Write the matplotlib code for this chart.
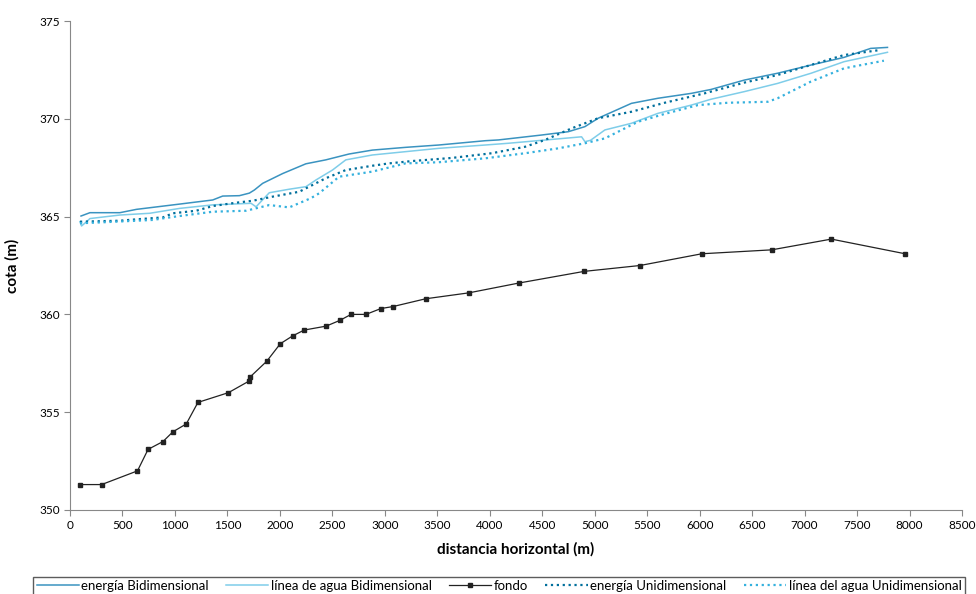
import matplotlib.pyplot as plt

plt.rcParams['font.family'] = ['Lato', 'DejaVu Sans']

# fondo (bed profile)
fondo_x = [95, 301, 643, 744, 886, 981, 1108, 1219, 1510, 1709, 1716, 1874, 2004,
           2121, 2232, 2441, 2574, 2678, 2820, 2963, 3077, 3390, 3799, 4274, 4900,
           5432, 6021, 6686, 7255, 7958]
fondo_y = [351.3, 351.3, 352.0, 353.1, 353.5, 354.0, 354.4, 355.5, 356.0, 356.6,
           356.8, 357.6, 358.5, 358.9, 359.2, 359.4, 359.7, 360.0, 360.0, 360.3,
           360.4, 360.8, 361.1, 361.6, 362.2, 362.5, 363.1, 363.3, 363.85, 363.1]

# energía Bidimensional
e2d_x = [105, 190, 475, 633, 1045, 1360, 1455, 1614, 1709, 1757, 1836, 2026, 2248,
         2437, 2659, 2881, 3197, 3514, 3957, 4084, 4493, 4748, 4907, 5033, 5350,
         5603, 5920, 6108, 6426, 6743, 7062, 7376, 7630, 7790]
e2d_y = [365.03, 365.2, 365.2, 365.37, 365.64, 365.85, 366.05, 366.07, 366.2, 366.36,
         366.7, 367.2, 367.7, 367.9, 368.2, 368.4, 368.54, 368.66, 368.88, 368.92,
         369.17, 369.34, 369.6, 370.03, 370.79, 371.05, 371.3, 371.5, 371.98, 372.33,
         372.75, 373.14, 373.6, 373.65]

# línea de agua Bidimensional
w2d_x = [95, 110, 158, 190, 475, 760, 1045, 1361, 1725, 1773, 1899, 2089, 2248, 2343,
         2501, 2628, 2881, 3197, 3514, 3957, 4179, 4875, 4907, 4960, 5097, 5350, 5603,
         5920, 6108, 6426, 6743, 7062, 7376, 7790]
w2d_y = [364.74, 364.52, 364.74, 364.9, 365.08, 365.17, 365.42, 365.6, 365.68, 365.5,
         366.22, 366.4, 366.53, 366.87, 367.38, 367.9, 368.15, 368.32, 368.49, 368.66,
         368.75, 369.08, 368.83, 368.9, 369.43, 369.77, 370.28, 370.7, 371.0, 371.39,
         371.81, 372.33, 372.92, 373.4]

# energía Unidimensional
e1d_x = [95, 475, 633, 886, 981, 1203, 1361, 1583, 1741, 1931, 2184, 2437, 2628,
         2881, 3039, 3260, 3640, 3957, 4020, 4337, 4527, 4780, 5033, 5350, 5667,
         6046, 6426, 6743, 7059, 7376, 7724]
e1d_y = [364.74, 364.79, 364.86, 364.96, 365.17, 365.3, 365.54, 365.71, 365.81, 366.02,
         366.27, 366.96, 367.38, 367.6, 367.72, 367.84, 368.0, 368.2, 368.24, 368.57,
         368.92, 369.51, 370.03, 370.36, 370.82, 371.3, 371.85, 372.24, 372.75, 373.26,
         373.52]

# línea del agua Unidimensional
w1d_x = [95, 316, 791, 886, 1045, 1361, 1678, 1899, 2089, 2295, 2374, 2564, 2881,
         3197, 3514, 3957, 4337, 4653, 4907, 5097, 5413, 5667, 5983, 6268, 6648,
         6743, 7059, 7376, 7756]
w1d_y = [364.66, 364.71, 364.83, 364.91, 365.03, 365.25, 365.3, 365.59, 365.47, 365.94,
         366.19, 367.04, 367.3, 367.72, 367.78, 367.98, 368.24, 368.49, 368.75, 369.0,
         369.85, 370.25, 370.7, 370.82, 370.87, 371.05, 371.9, 372.58, 372.97]

fig = plt.figure(figsize=(9.76, 5.94), dpi=100)
ax = fig.add_axes([70/976, 1 - 510/594, 892/976, 489/594])

ax.plot(e2d_x, e2d_y, '-', color='#3a93c0', lw=1.1, label='energía Bidimensional')
ax.plot(w2d_x, w2d_y, '-', color='#7fcde9', lw=1.1, label='línea de agua Bidimensional')
ax.plot(fondo_x, fondo_y, '-s', color='#222222', lw=0.9, ms=3.5, label='fondo')
ax.plot(e1d_x, e1d_y, ':', color='#006f9c', lw=1.6, label='energía Unidimensional')
ax.plot(w1d_x, w1d_y, ':', color='#35b1de', lw=1.6, label='línea del agua Unidimensional')

ax.set_xlim(0, 8500)
ax.set_ylim(350, 375)
ax.set_xticks(range(0, 8501, 500))
ax.set_yticks(range(350, 376, 5))
for s in ['top', 'right']:
    ax.spines[s].set_visible(False)
for s in ['left', 'bottom']:
    ax.spines[s].set_color('#888888')
ax.tick_params(labelsize=8.5, color='#888888', length=4)

ax.set_xlabel('distancia horizontal (m)', fontsize=11, fontweight='bold', labelpad=8)
ax.set_ylabel('cota (m)', fontsize=11, fontweight='bold', labelpad=14)

fig.legend(loc='center', bbox_to_anchor=(499/976, 1 - 586/594), ncol=5,
           fontsize=9.5, frameon=True, fancybox=False, edgecolor='#333333',
           handlelength=3.2, columnspacing=1.3, handletextpad=0.2,
           borderpad=0.25, borderaxespad=0)

fig.savefig('out.png', dpi=100)
